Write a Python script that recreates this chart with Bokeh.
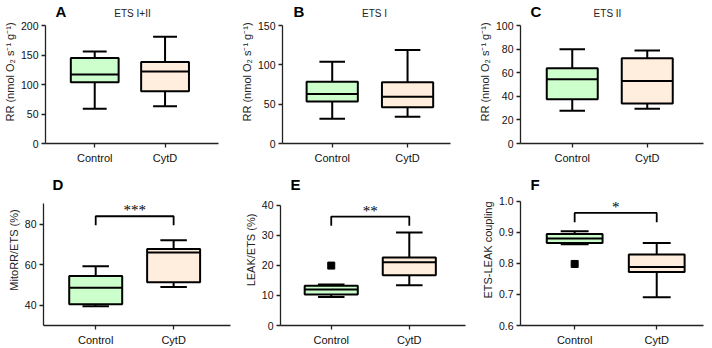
from bokeh.plotting import figure
from bokeh.layouts import column, row
from bokeh.models import FixedTicker, Label, NumeralTickFormatter, Range1d
from bokeh.embed import file_html
from bokeh.resources import INLINE

groups = ["Control", "CytD"]
group_x = [1, 2]

# five-number summaries: lower whisker, Q1, median, Q3, upper whisker
A_control = [59, 104, 117, 145, 156]
A_cytd = [63, 88.5, 122, 138, 181]
B_control = [31.4, 53.5, 63, 78.6, 104]
B_cytd = [34, 46, 59.5, 77.8, 119]
C_control = [27.8, 37.4, 54.4, 63.7, 79.9]
C_cytd = [29.5, 34, 53, 72.2, 78.8]
D_control = [39.5, 40.5, 48.7, 54.5, 59.3]
D_cytd = [49, 51.4, 66.1, 67.8, 72.2]
E_control = [9.5, 10.3, 12.0, 13.2, 13.6]
E_cytd = [13.4, 16.7, 21.0, 22.6, 30.9]
F_control = [0.861, 0.865, 0.88, 0.894, 0.903]
F_cytd = [0.691, 0.772, 0.788, 0.828, 0.865]

E_outlier = [19.9]
F_outlier = [0.798]

# significance brackets: top, drop, stars
D_sig = [84, 79.5, "***"]
E_sig = [36.2, 33.1, "**"]
F_sig = [0.962, 0.932, "*"]

A_ticks = [0, 50, 100, 150, 200]
B_ticks = [0, 50, 100, 150]
C_ticks = [0, 20, 40, 60, 80, 100]
D_ticks = [40, 60, 80]
E_ticks = [0, 10, 20, 30, 40]
F_ticks = [0.6, 0.7, 0.8, 0.9, 1.0]

RR_LABEL = "RR (nmol O\u2082 s\u207b\u00b9 g\u207b\u00b9)"

FONT = "Liberation Sans"
GREEN = "#ccffcc"
PEACH = "#ffeedd"
H = 174

# bl/br: frame left/right borders; at: pixel row of the axis top; bb: bottom border
panels = [
    dict(letter="A", title="ETS I+II", ctrl=A_control, cyt=A_cytd, ticks=A_ticks, yr=(0, 200),
         ylabel=RR_LABEL, w=237, bl=43, br=19, at=25, bb=31, xr=(0.30, 2.76), lx=53, ly=2.2, tx=130),
    dict(letter="B", title="ETS I", ctrl=B_control, cyt=B_cytd, ticks=B_ticks, yr=(0, 150),
         ylabel=RR_LABEL, w=237, bl=41, br=24, at=25, bb=31, xr=(0.34, 2.57), lx=52, ly=2.2, tx=133),
    dict(letter="C", title="ETS II", ctrl=C_control, cyt=C_cytd, ticks=C_ticks, yr=(0, 100),
         ylabel=RR_LABEL, w=238, bl=46, br=9, at=25, bb=31, xr=(0.31, 2.75), lx=56, ly=2.2, tx=133),
    dict(letter="D", title=None, ctrl=D_control, cyt=D_cytd, ticks=D_ticks, yr=(30, 90.5),
         ylabel="MitoRR/ETS (%)", w=237, bl=43, br=7, at=29, bb=21, xr=(0.33, 2.73), lx=52, ly=3.2,
         sig=D_sig, out=None),
    dict(letter="E", title=None, ctrl=E_control, cyt=E_cytd, ticks=E_ticks, yr=(0, 40),
         ylabel="LEAK/ETS (%)", w=237, bl=43, br=9, at=31, bb=21, xr=(0.35, 2.72), lx=53, ly=3.2,
         sig=E_sig, out=E_outlier),
    dict(letter="F", title=None, ctrl=F_control, cyt=F_cytd, ticks=F_ticks, yr=(0.6, 1.0),
         ylabel="ETS-LEAK coupling", w=238, bl=46, br=9, at=27, bb=21, xr=(0.34, 2.57), lx=56, ly=3.2,
         sig=F_sig, out=F_outlier),
]

figs = []
for pc in panels:
    ymin, ymax = pc["yr"]
    pb = H - pc["bb"]                       # frame bottom pixel
    per_px = (ymax - ymin) / (pb - pc["at"])
    y_end = ymax + pc["at"] * per_px        # frame reaches the top of the canvas
    p = figure(width=pc["w"], height=H, output_backend="svg", toolbar_location=None,
               title=None,
               x_range=Range1d(*pc["xr"]), y_range=Range1d(ymin, y_end),
               min_border_left=pc["bl"], min_border_right=pc["br"],
               min_border_top=0, min_border_bottom=pc["bb"])
    p.outline_line_color = None
    p.grid.visible = False
    p.background_fill_color = "white"
    p.border_fill_color = "white"

    for ax in (p.xaxis[0], p.yaxis[0]):
        ax.axis_line_color = "#222222"
        ax.axis_line_width = 1.3
        ax.major_tick_line_color = "#222222"
        ax.major_tick_line_width = 1.3
        ax.major_tick_out = 4
        ax.major_tick_in = 0
        ax.minor_tick_line_color = None
        ax.major_label_text_font = FONT
        ax.major_label_text_font_size = "10.5px"
        ax.major_label_text_color = "#111111"
        ax.major_label_standoff = 3

    p.xaxis.ticker = FixedTicker(ticks=group_x)
    p.xaxis.major_label_overrides = {1: groups[0], 2: groups[1]}
    p.xaxis.major_label_text_font_size = "11px"
    p.xaxis.major_label_standoff = 4

    p.yaxis.bounds = (ymin, ymax)
    p.yaxis.ticker = FixedTicker(ticks=pc["ticks"])
    if pc["letter"] == "F":
        p.yaxis.formatter = NumeralTickFormatter(format="0.0")
    p.yaxis.axis_label = pc["ylabel"]
    p.yaxis.axis_label_text_font = FONT
    p.yaxis.axis_label_text_font_size = "11px"
    p.yaxis.axis_label_text_font_style = "normal"
    p.yaxis.axis_label_text_color = "#222222"
    p.yaxis.axis_label_standoff = 2

    stats = [pc["ctrl"], pc["cyt"]]
    colors = [GREEN, PEACH]
    lo = [s[0] for s in stats]
    q1 = [s[1] for s in stats]
    med = [s[2] for s in stats]
    q3 = [s[3] for s in stats]
    hi = [s[4] for s in stats]
    bw = 0.68
    cw = 0.34
    # whiskers
    p.segment(x0=group_x, y0=q3, x1=group_x, y1=hi, line_color="black", line_width=2)
    p.segment(x0=group_x, y0=q1, x1=group_x, y1=lo, line_color="black", line_width=2)
    p.segment(x0=[x - cw / 2 for x in group_x], y0=hi, x1=[x + cw / 2 for x in group_x], y1=hi,
              line_color="black", line_width=2)
    p.segment(x0=[x - cw / 2 for x in group_x], y0=lo, x1=[x + cw / 2 for x in group_x], y1=lo,
              line_color="black", line_width=2)
    # boxes
    p.vbar(x=group_x, width=bw, bottom=q1, top=q3, fill_color=colors,
           line_color="black", line_width=2)
    p.segment(x0=[x - bw / 2 for x in group_x], y0=med, x1=[x + bw / 2 for x in group_x], y1=med,
              line_color="black", line_width=2)

    if pc.get("out"):
        p.scatter(x=[1] * len(pc["out"]), y=pc["out"], marker="square", size=7,
                  fill_color="black", line_color="black")

    if pc.get("sig"):
        top, drop, stars = pc["sig"]
        p.line(x=[1, 1, 2, 2], y=[drop, top, top, drop], line_color="black", line_width=1.8)
        p.text(x=[1.5], y=[top], text=[stars], text_align="center", text_baseline="middle",
               text_font=FONT, text_font_size="15px", text_color="black", y_offset=-6)

    figs.append(p)

    # screen units: x from the frame's left edge, y upward from the frame's bottom
    lab = Label(x=pc["lx"] - pc["bl"], y=pb - pc["ly"], x_units="screen", y_units="screen",
                text=pc["letter"], text_font=FONT, text_font_style="bold", text_font_size="15px",
                text_baseline="top", text_align="left", text_color="black")
    p.add_layout(lab)
    if pc["title"]:
        tl = Label(x=pc["tx"] - pc["bl"], y=pb - 7, x_units="screen", y_units="screen",
                   text=pc["title"], text_font=FONT, text_font_size="10px", text_baseline="top",
                   text_align="center", text_color="#222222")
        p.add_layout(tl)

layout = column(row(*figs[:3]), row(*figs[3:]))
open("out.html", "w").write(file_html(layout, INLINE))
